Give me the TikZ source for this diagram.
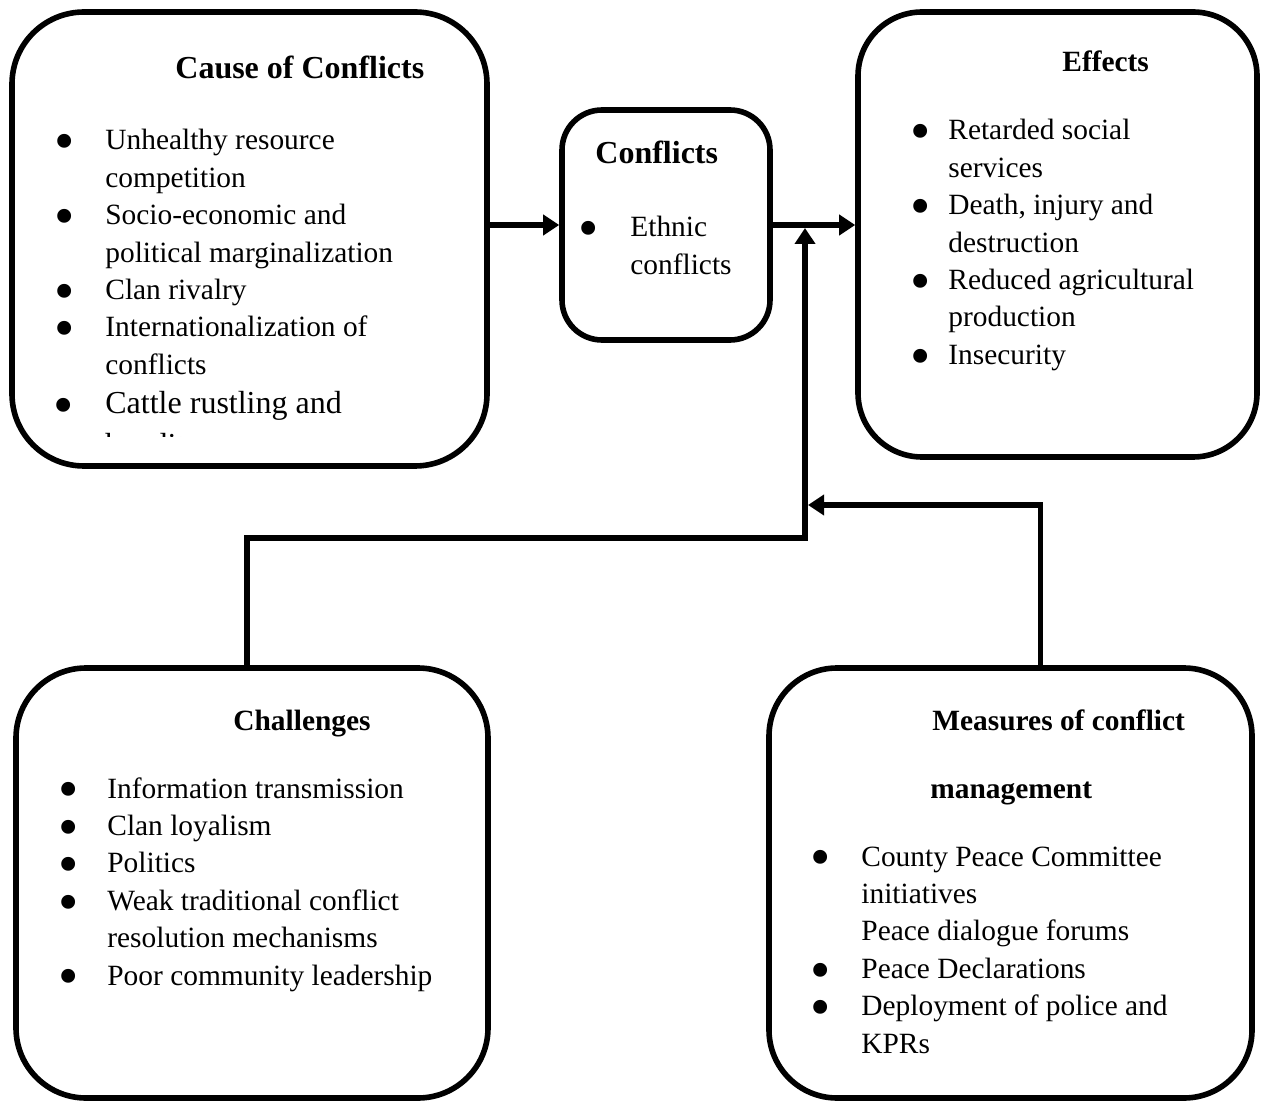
\documentclass[tikz,border=0pt]{standalone}
\usepackage{fontspec}
\setmainfont{Liberation Serif}
\usetikzlibrary{
	arrows.meta,
	calc,
	positioning
}
% bullet list: #1 = bullet column width, #2 = rows
\newcommand{\blist}[2]{\begin{tabular}[t]{@{}p{#1}@{}l@{}}#2\end{tabular}}
\newcommand{\bul}{\hspace*{3.2pt}\makebox[0pt]{\smash{\raisebox{-5.4pt}{\fontsize{29}{29}\selectfont\textbullet}}}}

\begin{document}
\begin{tikzpicture}[x=0.5pt, y=-0.5pt,
		box/.style={draw, line width=2.8pt, inner sep=0pt},
		ttl/.style={anchor=base west, inner sep=0pt, font=\bfseries\fontsize{14.7}{18.7}\selectfont},
		bigttl/.style={anchor=base west, inner sep=0pt, font=\bfseries\fontsize{16}{19}\selectfont},
		items/.style={anchor=base west, inner sep=0pt, font=\fontsize{14.7}{18.7}\selectfont},
		link/.style={line width=2.8pt, line join=miter, -{Triangle[length=8pt,width=10pt]}}]
		\useasboundingbox (0,0) rectangle (1264,1101);
		
		% the five boxes
		\node[box, rounded corners=36pt, minimum width=237.5pt, minimum height=227pt] (cause) at (249.5,239) {};
		\node[box, rounded corners=20pt, minimum width=104pt, minimum height=115pt] (conflicts) at (666,225) {};
		\node[box, rounded corners=32pt, minimum width=199.5pt, minimum height=222.5pt] (effects) at (1057.5,234.5) {};
		\node[box, rounded corners=35pt, minimum width=236pt, minimum height=215pt] (challenges) at (252,883) {};
		\node[box, rounded corners=34pt, minimum width=241.5pt, minimum height=215pt] (measures) at (1010.5,883) {};
		
		% titles
		\node[bigttl] (causettl) at (175,79) {Cause of Conflicts};
		\node[bigttl] (conflictsttl) at (595,164) {Conflicts};
		\node[ttl] (effectsttl) at (1062,72) {Effects};
		\node[ttl] (challengesttl) at (233,730) {Challenges};
		\node[ttl] (measuresttl) at (932,730) {Measures of conflict};
		\node[ttl] (measuresttlb) at (930,798) {management};
		
		% lists
		\node[items] (causelist) at (58,150) {\blist{23.5pt}{
				\bul & Unhealthy resource\\
				& competition\\
				\bul & Socio-economic and\\
				& political marginalization\\
				\bul & Clan rivalry\\
				\bul & Internationalization of\\
				& conflicts}};
		\begin{scope}
			\clip (0,0) rectangle (490,437);
			\node[items, font=\fontsize{16}{21}\selectfont] (cattle) at (57,414) {\blist{24pt}{
					\bul & Cattle rustling and\\
					& banditry}};
		\end{scope}
		\node[items] (conflictslist) at (582,237) {\blist{24pt}{
				\bul & Ethnic\\
				& conflicts}};
		\node[items] (effectslist) at (914,140) {\blist{17pt}{
				\bul & Retarded social\\
				& services\\
				\bul & Death, injury and\\
				& destruction\\
				\bul & Reduced agricultural\\
				& production\\
				\bul & Insecurity}};
		\node[items] (challengeslist) at (62,798) {\blist{22.5pt}{
				\bul & Information transmission\\
				\bul & Clan loyalism\\
				\bul & Politics\\
				\bul & Weak traditional conflict\\
				& resolution mechanisms\\
				\bul & Poor community leadership}};
		\node[items] (measureslist) at (814,866) {\blist{23.5pt}{
				\bul & County Peace Committee\\
				& initiatives\\
				& Peace dialogue forums\\
				\bul & Peace Declarations\\
				\bul & Deployment of police and\\
				& KPRs}};
		
		% connectors
		\coordinate (jn) at (805,228);
		\coordinate (lowbend) at (805,538);
		\coordinate (mjoin) at (808,505);
		\draw[link] (cause.east |- conflicts.west) -- (conflicts.west);
		\draw[link] (conflicts.east) -- (conflicts.east -| effects.west);
		\draw[link] ([xshift=-2.5pt]challenges.north) |- (lowbend) -- (jn);
		\draw[link] ([xshift=15pt]measures.north) |- (mjoin);
	\end{tikzpicture}
\end{document}
